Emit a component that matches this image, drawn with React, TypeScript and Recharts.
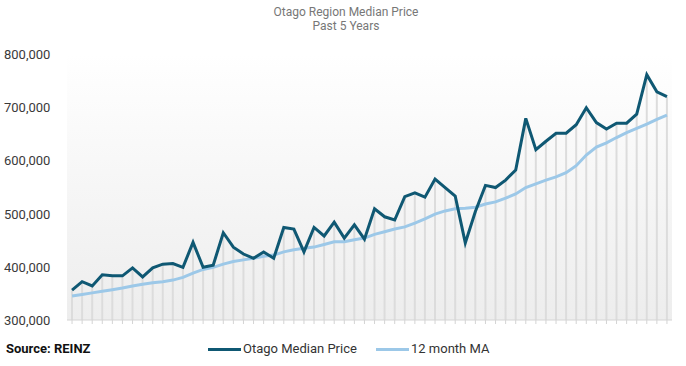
import React from 'react';
import { ComposedChart, Bar, Line, XAxis, YAxis, CartesianGrid } from 'recharts';

// monthly values, last 5 years
const months: string[] = Array.from({ length: 60 }, (_, i) => `M${i + 1}`);

const medianPrice = [
  356000, 372000, 364000, 385000, 383000, 383000, 398000, 381000, 398000, 405000,
  406000, 399000, 446000, 399000, 403000, 464000, 437000, 424000, 416000, 428000,
  416000, 474000, 471000, 428000, 474000, 458000, 484000, 454000, 479000, 452000,
  509000, 494000, 488000, 532000, 539000, 531000, 565000, 549000, 533000, 445000,
  504000, 553000, 549000, 563000, 582000, 679000, 620000, 636000, 651000, 651000,
  667000, 699000, 671000, 659000, 670000, 670000, 687000, 761000, 729000, 720000,
];

const movingAvg = [
  345000, 348000, 351000, 354000, 357000, 360000, 364000, 367000, 370000, 372000,
  375000, 380000, 388000, 395000, 399000, 405000, 410000, 413000, 416000, 420000,
  422000, 428000, 432000, 435000, 437000, 442000, 447000, 447000, 451000, 454000,
  461000, 466000, 471000, 475000, 482000, 490000, 499000, 505000, 509000, 510000,
  512000, 518000, 522000, 529000, 537000, 549000, 556000, 563000, 569000, 577000,
  590000, 610000, 625000, 633000, 643000, 652000, 660000, 668000, 677000, 685000,
];

const yTicks = [300000, 400000, 500000, 600000, 700000, 800000];

const data = months.map((m, i) => ({ month: m, median: medianPrice[i], ma: movingAvg[i] }));

const DARK = '#0f5873';
const LIGHT = '#9cc8e8';
const FONT = 'Roboto, "Noto Sans", sans-serif';

function YTick({ y, payload }: any) {
  return (
    <text x={4} y={y} dy={5} textAnchor="start" fill="#3a3a3a" fontSize={13} fontFamily={FONT}>
      {Number(payload.value).toLocaleString('en-US')}
    </text>
  );
}

export default function App() {
  return (
    <div style={styles.page}>
      <div style={{ ...styles.title, top: 5 }}>Otago Region Median Price</div>
      <div style={{ ...styles.title, top: 19 }}>Past 5 Years</div>
      <ComposedChart width={686} height={366} data={data} margin={{ top: 54, right: 14, bottom: 40, left: 0 }}>
        <defs>
          <linearGradient id="plotBg" x1="0" y1="0" x2="0" y2="1">
            <stop offset="0%" stopColor="#ffffff" />
            <stop offset="100%" stopColor="#ededed" />
          </linearGradient>
        </defs>
        <CartesianGrid horizontal={false} vertical={false} fill="url(#plotBg)" />
        <XAxis
          dataKey="month"
          height={6}
          axisLine={{ stroke: '#d4d4d4' }}
          tickLine={{ stroke: '#d4d4d4' }}
          tickSize={4}
          tickFormatter={() => ''}
          interval={0}
        />
        <YAxis
          width={67}
          domain={[300000, 800000]}
          ticks={yTicks}
          axisLine={false}
          tickLine={false}
          tick={<YTick />}
        />
        <Bar dataKey="median" barSize={2} fill="#dcdcdc" isAnimationActive={false} />
        <Line dataKey="ma" stroke={LIGHT} strokeWidth={3} dot={false} type="linear" isAnimationActive={false} />
        <Line dataKey="median" stroke={DARK} strokeWidth={3} dot={false} type="linear" isAnimationActive={false} />
      </ComposedChart>
      <div style={styles.source}>Source: REINZ</div>
      <div style={{ ...styles.legendItem, left: 208 }}>
        <span style={{ ...styles.swatch, background: DARK }} />Otago Median Price
      </div>
      <div style={{ ...styles.legendItem, left: 376 }}>
        <span style={{ ...styles.swatch, background: LIGHT }} />12 month MA
      </div>
    </div>
  );
}

const styles: Record<string, React.CSSProperties> = {
  page: { position: 'absolute', top: 0, left: 0, width: 686, height: 366, background: '#fff', fontFamily: FONT },
  title: { position: 'absolute', left: 0, width: 692, textAlign: 'center', fontSize: 12, color: '#777', lineHeight: '14px' },
  source: { position: 'absolute', left: 6, top: 341, fontSize: 13, fontWeight: 700, color: '#111', lineHeight: '16px' },
  legendItem: { position: 'absolute', top: 341, fontSize: 13, color: '#333', lineHeight: '16px', display: 'flex', alignItems: 'center' },
  swatch: { display: 'inline-block', width: 33, height: 3, marginRight: 2 },
};
